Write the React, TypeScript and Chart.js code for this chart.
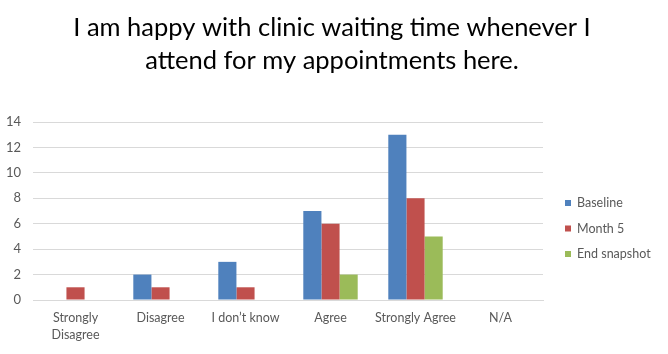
import React, { useEffect, useRef } from "react";
import { Chart, registerables } from "chart.js";

Chart.register(...registerables);

const TITLE_LINES = [
  "I am happy with clinic waiting time whenever I",
  "attend for my appointments here.",
];
const CATEGORIES: (string | string[])[] = [
  ["Strongly", "Disagree"],
  "Disagree",
  "I don\u2019t know",
  "Agree",
  "Strongly Agree",
  "N/A",
];
const SERIES_NAMES = ["Baseline", "Month 5", "End snapshot"];
const BASELINE = [0, 2, 3, 7, 13, 0];
const MONTH_5 = [1, 1, 1, 6, 8, 0];
const END_SNAPSHOT = [0, 0, 0, 2, 5, 0];
const SERIES_COLORS = ["#4F81BD", "#C0504D", "#9BBB59"];
const Y_MIN = 0;
const Y_MAX = 14;
const Y_STEP = 2;

const FONT = "Lato, 'Open Sans', sans-serif";
const TICK_COLOR = "#595959";
const GRID_COLOR = "#D9D9D9";

const TITLE_X = 332;
const TITLE_Y0 = 36;
const TITLE_GAP = 33;
const TITLE_SIZE = 25.5;

const LEGEND_X = 565;
const LEGEND_Y0 = 203;
const LEGEND_GAP = 25.5;
const LEGEND_BOX = 6;

const decorations = {
  id: "decorations",
  afterDraw(chart: any) {
    const ctx = chart.ctx as CanvasRenderingContext2D;
    ctx.save();
    // title
    ctx.font = `${TITLE_SIZE}px ${FONT}`;
    ctx.fillStyle = "#000000";
    ctx.textAlign = "center";
    ctx.textBaseline = "alphabetic";
    TITLE_LINES.forEach((line, i) => {
      ctx.fillText(line, TITLE_X, TITLE_Y0 + i * TITLE_GAP);
    });
    // legend
    ctx.font = `12.5px ${FONT}`;
    ctx.textBaseline = "middle";
    ctx.textAlign = "left";
    chart.data.datasets.forEach((ds: any, i: number) => {
      const y = LEGEND_Y0 + i * LEGEND_GAP;
      ctx.fillStyle = ds.backgroundColor;
      ctx.fillRect(LEGEND_X, y - LEGEND_BOX / 2, LEGEND_BOX, LEGEND_BOX);
      ctx.fillStyle = TICK_COLOR;
      ctx.fillText(ds.label, LEGEND_X + 12, y);
    });
    ctx.restore();
  },
};

export default function App() {
  const ref = useRef<HTMLCanvasElement | null>(null);

  useEffect(() => {
    if (!ref.current) return;
    const values = [BASELINE, MONTH_5, END_SNAPSHOT];
    const chart = new Chart(ref.current, {
      type: "bar",
      data: {
        labels: CATEGORIES,
        datasets: SERIES_NAMES.map((name, i) => ({
          label: name,
          data: values[i],
          backgroundColor: SERIES_COLORS[i],
          borderWidth: 0,
          categoryPercentage: 0.64,
          barPercentage: 1.0,
        })),
      },
      options: {
        responsive: false,
        animation: false,
        layout: { padding: { left: 0, right: 125, top: 122, bottom: 0 } },
        plugins: {
          legend: { display: false },
          tooltip: { enabled: false },
          title: { display: false },
        },
        scales: {
          x: {
            grid: { display: false, drawTicks: false },
            border: { display: true, color: GRID_COLOR, width: 1 },
            ticks: {
              color: TICK_COLOR,
              font: { family: FONT, size: 12.5, lineHeight: 1.35 },
              padding: 10,
              maxRotation: 0,
              minRotation: 0,
              autoSkip: false,
            },
            afterFit(scale: any) {
              scale.height = 54;
            },
          },
          y: {
            min: Y_MIN,
            max: Y_MAX,
            ticks: {
              stepSize: Y_STEP,
              color: TICK_COLOR,
              font: { family: FONT, size: 13 },
              padding: 12,
            },
            grid: { color: GRID_COLOR, drawTicks: false },
            border: { display: false },
            afterFit(scale: any) {
              scale.width = 33;
            },
          },
        },
      },
      plugins: [decorations],
    });
    return () => chart.destroy();
  }, []);

  return (
    <div style={{ position: "fixed", left: 0, top: 0, width: 668, height: 354, background: "#fff" }}>
      <canvas ref={ref} width={668} height={354} />
    </div>
  );
}
